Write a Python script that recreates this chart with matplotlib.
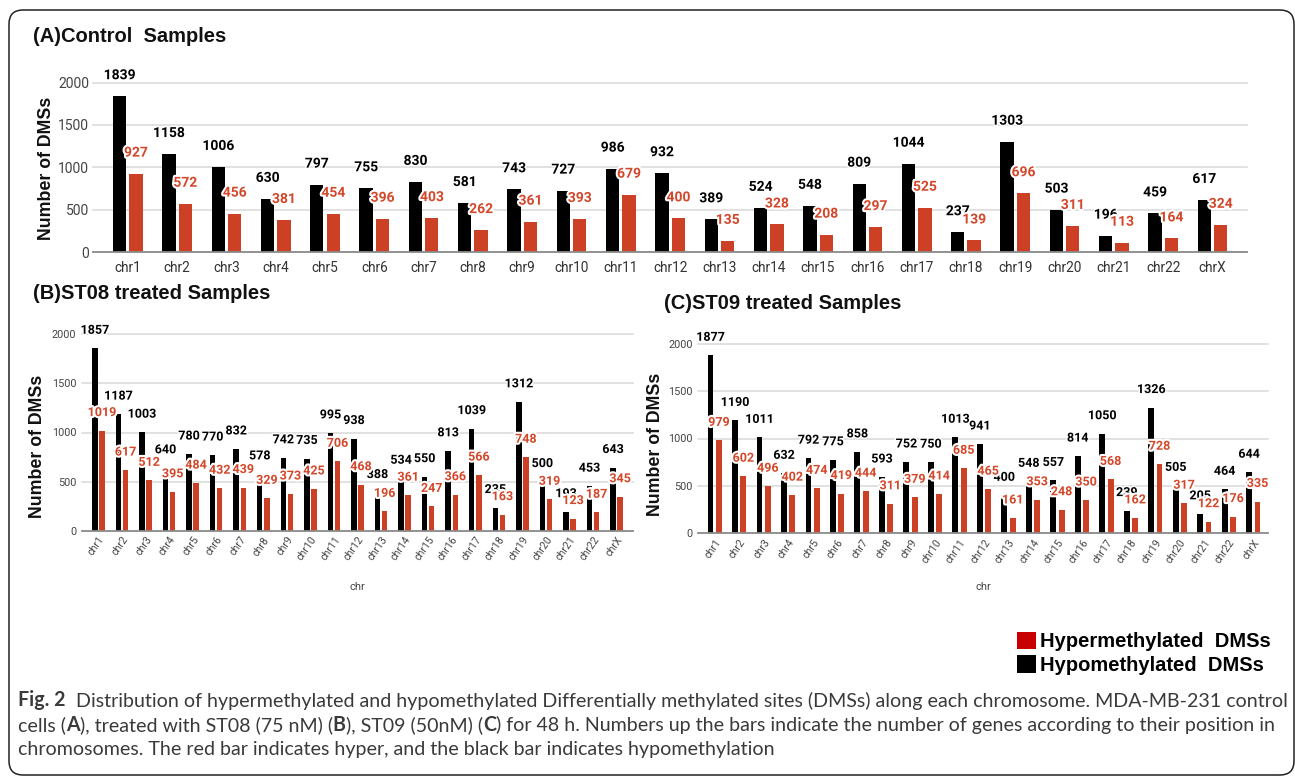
import matplotlib
matplotlib.use("Agg")
import matplotlib.pyplot as plt
import numpy as np
from matplotlib.patches import FancyBboxPatch, Patch
from matplotlib.font_manager import FontProperties
from matplotlib.transforms import ScaledTranslation
import matplotlib.patheffects as pe

# ---------------- data ----------------
chroms = ["chr1", "chr2", "chr3", "chr4", "chr5", "chr6", "chr7", "chr8", "chr9",
          "chr10", "chr11", "chr12", "chr13", "chr14", "chr15", "chr16", "chr17",
          "chr18", "chr19", "chr20", "chr21", "chr22", "chrX"]

control_hypo = [1839, 1158, 1006, 630, 797, 755, 830, 581, 743, 727, 986, 932,
                389, 524, 548, 809, 1044, 237, 1303, 503, 196, 459, 617]
control_hyper = [927, 572, 456, 381, 454, 396, 403, 262, 361, 393, 679, 400,
                 135, 328, 208, 297, 525, 139, 696, 311, 113, 164, 324]

st08_hypo = [1857, 1187, 1003, 640, 780, 770, 832, 578, 742, 735, 995, 938,
             388, 534, 550, 813, 1039, 235, 1312, 500, 193, 453, 643]
st08_hyper = [1019, 617, 512, 395, 484, 432, 439, 329, 373, 425, 706, 468,
              196, 361, 247, 366, 566, 163, 748, 319, 123, 187, 345]

st09_hypo = [1877, 1190, 1011, 632, 792, 775, 858, 593, 752, 750, 1013, 941,
             400, 548, 557, 814, 1050, 239, 1326, 505, 205, 464, 644]
st09_hyper = [979, 602, 496, 402, 474, 419, 444, 311, 379, 414, 685, 465,
              161, 353, 248, 350, 568, 162, 728, 317, 122, 176, 335]

yticks = [0, 500, 1000, 1500, 2000]
legend_labels = ["Hypermethylated  DMSs", "Hypomethylated  DMSs"]

# ---------------- style ----------------
W, H = 1295, 776
RED = "#cc4125"
RED_TXT = "#d4472a"
LEG_RED = "#c80000"
HEAD = ["Liberation Sans", "DejaVu Sans"]
NUM = ["Roboto", "DejaVu Sans"]
NARROW = ["Liberation Sans Narrow", "Roboto", "DejaVu Sans"]

fig = plt.figure(figsize=(W / 100, H / 100), dpi=100)
fig.patch.set_facecolor("white")


def rect(x0, x1, yt, yb):
    return [x0 / W, 1 - yb / H, (x1 - x0) / W, (yb - yt) / H]


def panel(r, hypo, hyper, width, off, xlim, big):
    ax = fig.add_axes(r)
    x = np.arange(len(chroms))
    ax.bar(x - off, hypo, width, color="black", zorder=2)
    ax.bar(x + off, hyper, width, color=RED, zorder=2)
    ax.set_xlim(*xlim)
    ax.set_ylim(0, 2000)
    ax.set_yticks(yticks)
    ax.set_yticklabels([str(v) for v in yticks])
    ax.set_axisbelow(True)
    ax.grid(axis="y", color="#d9d9d9", lw=1.1)
    for gl in ax.get_ygridlines():
        gl.set_clip_on(False)
    for s in ["top", "right", "left"]:
        ax.spines[s].set_visible(False)
    ax.spines["bottom"].set_color("#8c8c8c")
    ax.spines["bottom"].set_linewidth(1.3)
    ax.set_xticks(x)
    ax.set_xticklabels(chroms)
    if big:
        ax.tick_params(axis="x", length=0, pad=6, labelsize=9.8, labelcolor="#333333")
        ax.tick_params(axis="y", length=0, pad=3, labelsize=10, labelcolor="#444444")
        vfs, vfam, dy = 10, NUM, 15.1
    else:
        ax.tick_params(axis="x", length=0, pad=5, labelsize=7.6, labelcolor="#444444")
        ax.tick_params(axis="y", length=0, pad=4, labelsize=7.8, labelcolor="#444444")
        vfs, vfam, dy = 9, NARROW, 13
        for lab in ax.get_xticklabels():
            lab.set_rotation(55)
            lab.set_ha("right")
            lab.set_va("center")
            lab.set_rotation_mode("anchor")
            lab.set_transform(lab.get_transform() +
                              ScaledTranslation(0.04, 0, fig.dpi_scale_trans))
    for lab in ax.get_xticklabels() + ax.get_yticklabels():
        lab.set_family(NUM)
    for xi, v in zip(x, hypo):
        ax.annotate(str(v), (xi - off, v), xytext=(0, dy), textcoords="offset points",
                    ha="center", va="center", fontsize=vfs, fontweight="bold",
                    family=vfam, color="black", annotation_clip=False, zorder=4,
                    path_effects=[pe.withStroke(linewidth=2, foreground="white")])
    for xi, v in zip(x, hyper):
        ax.annotate(str(v), (xi + off, v), xytext=(0, dy), textcoords="offset points",
                    ha="center", va="center", fontsize=vfs, fontweight="bold",
                    family=vfam, color=RED_TXT, annotation_clip=False, zorder=5,
                    path_effects=[pe.withStroke(linewidth=3, foreground="white")])
    return ax


axA = panel(rect(93.3, 1247, 82.5, 252.3), control_hypo, control_hyper,
            0.27, 0.166, (-0.70, 22.70), True)
axB = panel(rect(81.7, 632.6, 334.3, 530.7), st08_hypo, st08_hyper,
            0.23, 0.15, (-0.71, 22.68), False)
axC = panel(rect(698.3, 1268, 343.7, 533.3), st09_hypo, st09_hyper,
            0.24, 0.17, (-0.67, 22.60), False)

for ax, yf in [(axB, -0.287), (axC, -0.283)]:
    ax.set_xlabel("chr", fontsize=8, color="#444444", family=NUM)
    ax.xaxis.set_label_coords(0.5, yf)
    ax.xaxis.label.set_va("center")

# titles
for (xp, yp, s) in [(33, 36, "(A)Control  Samples"),
                    (33, 293.5, "(B)ST08 treated Samples"),
                    (664.4, 304, "(C)ST09 treated Samples")]:
    fig.text(xp / W, 1 - yp / H, s, fontsize=14.5, fontweight="bold",
             family=HEAD, ha="left", va="center", color="#111111")

# y labels
for (xp, yp) in [(46.6, 168.5), (37.5, 446), (655, 444.7)]:
    fig.text(xp / W, 1 - yp / H, "Number of DMSs", rotation=90, fontsize=12.8,
             fontweight="bold", family=HEAD, ha="center", va="center", color="#111111")

# legend
fig.legend(handles=[Patch(facecolor=LEG_RED, lw=0, label=legend_labels[0]),
                    Patch(facecolor="black", lw=0, label=legend_labels[1])],
           loc="upper left", bbox_to_anchor=(1017 / W, 1 - 631.5 / H),
           frameon=False, handlelength=0.95, handleheight=0.95, handletextpad=0.2,
           borderpad=0, borderaxespad=0, labelspacing=0.2,
           prop=FontProperties(family=HEAD, weight="bold", size=14.5))

# outer rounded frame
frame = FancyBboxPatch((0.09, 0.01), 12.85, 7.65,
                       boxstyle="round,pad=0,rounding_size=0.14",
                       transform=fig.dpi_scale_trans, fill=False,
                       ec="#222222", lw=1.1)
fig.add_artist(frame)

# caption
CAP = ["Lato", "DejaVu Sans"]
lines = [
    [("Fig. 2", True), ("  Distribution of hypermethylated and hypomethylated Differentially "
                        "methylated sites (DMSs) along each chromosome. MDA-MB-231 control", False)],
    [("cells (", False), ("A", True), ("), treated with ST08 (75 nM) (", False), ("B", True),
     ("), ST09 (50nM) (", False), ("C", True),
     (") for 48 h. Numbers up the bars indicate the number of genes according to their position in", False)],
    [("chromosomes. The red bar indicates hyper, and the black bar indicates hypomethylation", False)],
]
baselines = [706.5, 731, 755.5]
renderer = fig.canvas.get_renderer()
REG_W = "normal"

# fit the font size so the first line spans the same width as the reference
probe_w = 0
for txt, bold in lines[0]:
    t = fig.text(0, 0, txt, fontsize=12, family=CAP, fontweight="bold" if bold else REG_W)
    probe_w += t.get_window_extent(renderer).width
    t.remove()
cap_fs = 12 * (1281 - 18) / probe_w

for pieces, yb in zip(lines, baselines):
    xp = 18
    for txt, bold in pieces:
        t = fig.text(xp / W, 1 - yb / H, txt, fontsize=cap_fs, family=CAP,
                     fontweight="bold" if bold else REG_W, va="baseline",
                     ha="left", color="#3a3a3a")
        xp = t.get_window_extent(renderer).x1

fig.savefig("out.png", dpi=100, facecolor="white")
